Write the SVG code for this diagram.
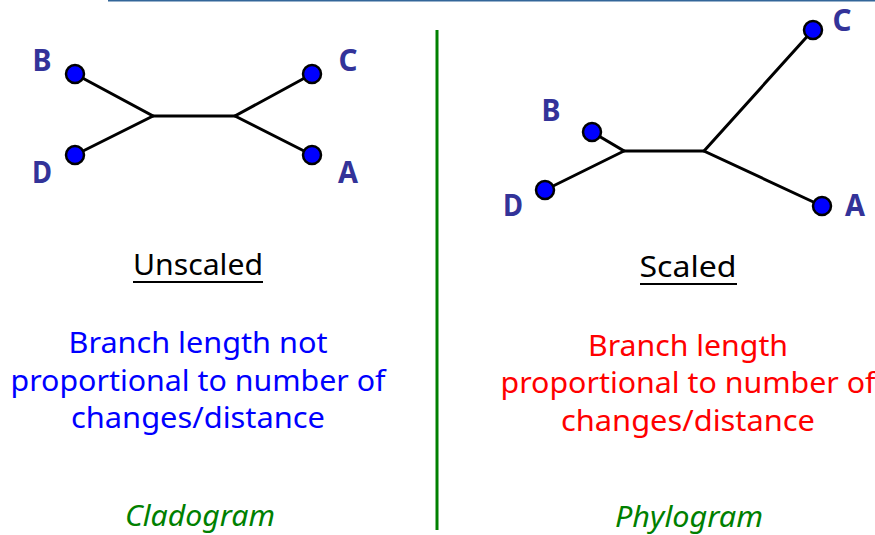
<svg xmlns="http://www.w3.org/2000/svg" width="875" height="535" viewBox="0 0 875 535">
<style>
.br{stroke:#000;stroke-width:3;fill:none;stroke-linecap:round}
.leaf{fill:#0000ff;stroke:#000;stroke-width:2.5}
.lbl{font-family:"Comic Sans MS","Noto Sans",sans-serif;font-weight:bold;font-size:30px;fill:#333399;text-anchor:middle}
.t{font-family:"Comic Sans MS","Noto Sans",sans-serif;font-size:29px;text-anchor:middle}
</style>
<rect width="875" height="535" fill="#fff"/>
<line x1="108" y1="0.5" x2="875" y2="0.5" stroke="#336699" stroke-width="2"/>
<line x1="437" y1="30" x2="437" y2="530" stroke="#008000" stroke-width="3"/>
<g id="connectors">
<polyline class="br" points="75,74 153,116 75,155"/>
<line class="br" x1="153" y1="116" x2="235" y2="116"/>
<polyline class="br" points="312,74 235,116 312,155"/>
<polyline class="br" points="592,132 624,151 545,190"/>
<line class="br" x1="624" y1="151" x2="704" y2="151"/>
<polyline class="br" points="813,30 704,151 822,206"/>
</g>
<g id="cl-B"><circle class="leaf" cx="75" cy="74" r="9"/><text class="lbl" x="42" y="71" textLength="19" lengthAdjust="spacingAndGlyphs">B</text></g>
<g id="cl-D"><circle class="leaf" cx="75" cy="155" r="9"/><text class="lbl" x="42" y="183" textLength="20" lengthAdjust="spacingAndGlyphs">D</text></g>
<g id="cl-C"><circle class="leaf" cx="312" cy="74" r="9"/><text class="lbl" x="348" y="71" textLength="19" lengthAdjust="spacingAndGlyphs">C</text></g>
<g id="cl-A"><circle class="leaf" cx="312" cy="155" r="9"/><text class="lbl" x="348" y="183" textLength="20" lengthAdjust="spacingAndGlyphs">A</text></g>
<g id="ph-C"><circle class="leaf" cx="813" cy="30" r="9"/><text class="lbl" x="842" y="31" textLength="19" lengthAdjust="spacingAndGlyphs">C</text></g>
<g id="ph-B"><circle class="leaf" cx="592" cy="132" r="9"/><text class="lbl" x="551" y="121" textLength="19" lengthAdjust="spacingAndGlyphs">B</text></g>
<g id="ph-D"><circle class="leaf" cx="545" cy="190" r="9"/><text class="lbl" x="513" y="216" textLength="20" lengthAdjust="spacingAndGlyphs">D</text></g>
<g id="ph-A"><circle class="leaf" cx="822" cy="206" r="9"/><text class="lbl" x="855" y="216" textLength="20" lengthAdjust="spacingAndGlyphs">A</text></g>
<g id="left-text">
<text class="t" x="198" y="275" fill="#000" textLength="130" lengthAdjust="spacingAndGlyphs">Unscaled</text>
<line x1="133" y1="282" x2="263" y2="282" stroke="#000" stroke-width="2"/>
<text class="t" x="198" y="353" fill="#0000ff" textLength="259" lengthAdjust="spacingAndGlyphs">Branch length not</text>
<text class="t" x="198" y="391" fill="#0000ff" textLength="375" lengthAdjust="spacingAndGlyphs">proportional to number of</text>
<text class="t" x="198" y="428" fill="#0000ff" textLength="254" lengthAdjust="spacingAndGlyphs">changes/distance</text>
<text class="t" x="200" y="526" fill="#008000" font-style="italic" textLength="150" lengthAdjust="spacingAndGlyphs">Cladogram</text>
</g>
<g id="right-text">
<text class="t" x="688" y="277" fill="#000" textLength="97" lengthAdjust="spacingAndGlyphs">Scaled</text>
<line x1="640" y1="284" x2="737" y2="284" stroke="#000" stroke-width="2"/>
<text class="t" x="688" y="356" fill="#ff0000" textLength="200" lengthAdjust="spacingAndGlyphs">Branch length</text>
<text class="t" x="688" y="393" fill="#ff0000" textLength="375" lengthAdjust="spacingAndGlyphs">proportional to number of</text>
<text class="t" x="688" y="431" fill="#ff0000" textLength="254" lengthAdjust="spacingAndGlyphs">changes/distance</text>
<text class="t" x="689" y="527" fill="#008000" font-style="italic" textLength="148" lengthAdjust="spacingAndGlyphs">Phylogram</text>
</g>
</svg>
